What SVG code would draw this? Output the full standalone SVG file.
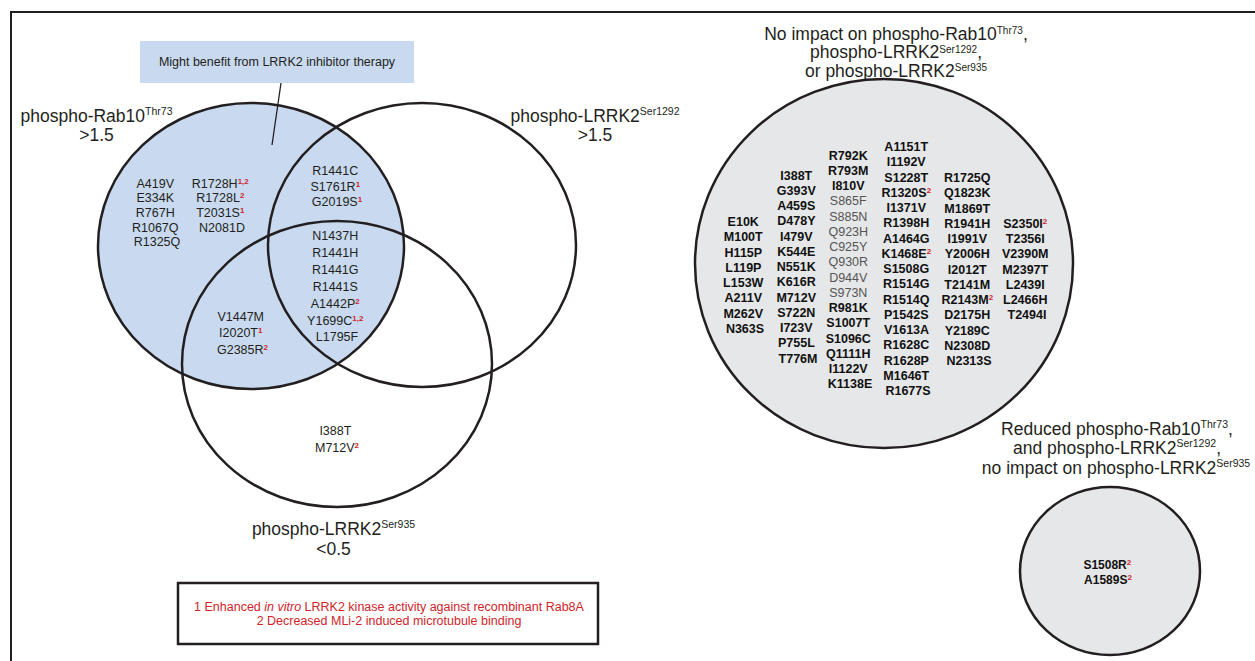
<svg xmlns="http://www.w3.org/2000/svg" width="1255" height="661" viewBox="0 0 1255 661">
<style>
text { font-family: "Liberation Sans", Arial, Helvetica, sans-serif; }
.frame { fill: none; stroke: #231f20; stroke-width: 2; }
.venn { fill: none; stroke: #231f20; stroke-width: 2.5; }
.blue { fill: #c9daf0; stroke: #231f20; stroke-width: 2.5; }
.grey { fill: #e6e7e8; stroke: #231f20; stroke-width: 2.5; }
.v { font-size: 12.5px; fill: #231f20; text-anchor: middle; }
.g { font-size: 12.5px; font-weight: bold; fill: #111111; text-anchor: middle; }
.gl { font-weight: normal; fill: #555555; }
.sup { fill: #d2232a; font-weight: bold; font-size: 8px; }
.title { font-size: 17.5px; fill: #231f20; text-anchor: middle; }
.ts { font-size: 10.5px; }
.ts2 { font-size: 10px; }
.leg { font-size: 12.5px; fill: #d2232a; text-anchor: middle; }
.lbl { font-size: 12.5px; fill: #231f20; text-anchor: middle; }
.conn { stroke: #231f20; stroke-width: 1.3; fill: none; }
</style>

<path class="frame" d="M11,661 V12 H1256"/>

<g id="venn-rab10">
  <ellipse class="blue" cx="251" cy="246" rx="153" ry="143"/>
  <text class="title" x="96.5" y="122">phospho-Rab10<tspan class="ts" dy="-7">Thr73</tspan></text>
  <text class="title" x="96.5" y="141">&gt;1.5</text>
</g>
<g id="venn-ser1292">
  <ellipse class="venn" cx="422" cy="245" rx="154" ry="142"/>
  <text class="title" x="595" y="122">phospho-LRRK2<tspan class="ts" dy="-7">Ser1292</tspan></text>
  <text class="title" x="595" y="141">&gt;1.5</text>
</g>
<g id="venn-ser935">
  <ellipse class="venn" cx="337" cy="364" rx="155" ry="143"/>
  <text class="title" x="333.5" y="535">phospho-LRRK2<tspan class="ts" dy="-7">Ser935</tspan></text>
  <text class="title" x="333.5" y="555">&lt;0.5</text>
</g>

<g id="venn-labels">
  <text class="v">
    <tspan x="157" y="187.8">A419V</tspan>
    <tspan x="157" y="202.4">E334K</tspan>
    <tspan x="157" y="217">R767H</tspan>
    <tspan x="157" y="231.6">R1067Q</tspan>
    <tspan x="157" y="246.2">R1325Q</tspan>
  </text>
  <text class="v">
    <tspan x="222" y="187.8">R1728H<tspan class="sup" dy="-4">1,2</tspan></tspan>
    <tspan x="222" y="202.4">R1728L<tspan class="sup" dy="-4">2</tspan></tspan>
    <tspan x="222" y="217">T2031S<tspan class="sup" dy="-4">1</tspan></tspan>
    <tspan x="222" y="231.6">N2081D</tspan>
  </text>
  <text class="v">
    <tspan x="337" y="175">R1441C</tspan>
    <tspan x="337" y="190.5">S1761R<tspan class="sup" dy="-4">1</tspan></tspan>
    <tspan x="337" y="206">G2019S<tspan class="sup" dy="-4">1</tspan></tspan>
  </text>
  <text class="v">
    <tspan x="337" y="240">N1437H</tspan>
    <tspan x="337" y="256.9">R1441H</tspan>
    <tspan x="337" y="273.8">R1441G</tspan>
    <tspan x="337" y="290.7">R1441S</tspan>
    <tspan x="337" y="307.6">A1442P<tspan class="sup" dy="-4">2</tspan></tspan>
    <tspan x="337" y="324.5">Y1699C<tspan class="sup" dy="-4">1,2</tspan></tspan>
    <tspan x="337" y="341.4">L1795F</tspan>
  </text>
  <text class="v">
    <tspan x="242.5" y="321">V1447M</tspan>
    <tspan x="242.5" y="337.4">I2020T<tspan class="sup" dy="-4">1</tspan></tspan>
    <tspan x="242.5" y="353.8">G2385R<tspan class="sup" dy="-4">2</tspan></tspan>
  </text>
  <text class="v">
    <tspan x="337" y="435">I388T</tspan>
    <tspan x="337" y="452">M712V<tspan class="sup" dy="-4">2</tspan></tspan>
  </text>
</g>

<g id="label-box">
  <rect x="140" y="41" width="274" height="42" fill="#c9daf0"/>
  <text class="lbl" x="277" y="66">Might benefit from LRRK2 inhibitor therapy</text>
</g>

<g id="connectors">
  <line class="conn" x1="281" y1="83" x2="272" y2="145"/>
</g>

<g id="legend">
  <rect x="178" y="583" width="420" height="61" fill="#ffffff" stroke="#231f20" stroke-width="2.5"/>
  <text class="leg" x="389" y="611">1 Enhanced <tspan font-style="italic">in vitro</tspan> LRRK2 kinase activity against recombinant Rab8A</text>
  <text class="leg" x="389" y="625">2 Decreased MLi-2 induced microtubule binding</text>
</g>

<g id="no-impact">
  <text class="title" x="896" y="39.5">No impact on phospho-Rab10<tspan class="ts2" dy="-5.5">Thr73</tspan><tspan dy="5.5">,</tspan></text>
  <text class="title" x="896" y="58">phospho-LRRK2<tspan class="ts2" dy="-5.5">Ser1292</tspan><tspan dy="5.5">,</tspan></text>
  <text class="title" x="896" y="76.5">or phospho-LRRK2<tspan class="ts2" dy="-5.5">Ser935</tspan></text>
  <ellipse class="grey" cx="884" cy="263.5" rx="189" ry="184.5"/>
  <text class="g">
    <tspan x="745" y="226">E10K</tspan>
    <tspan x="745" y="241.25">M100T</tspan>
    <tspan x="745" y="256.5">H115P</tspan>
    <tspan x="745" y="271.75">L119P</tspan>
    <tspan x="745" y="287">L153W</tspan>
    <tspan x="745" y="302.25">A211V</tspan>
    <tspan x="745" y="317.5">M262V</tspan>
    <tspan x="745" y="332.75">N363S</tspan>
  </text>
  <text class="g">
    <tspan x="798" y="179.5">I388T</tspan>
    <tspan x="798" y="194.75">G393V</tspan>
    <tspan x="798" y="210">A459S</tspan>
    <tspan x="798" y="225.25">D478Y</tspan>
    <tspan x="798" y="240.5">I479V</tspan>
    <tspan x="798" y="255.75">K544E</tspan>
    <tspan x="798" y="271">N551K</tspan>
    <tspan x="798" y="286.25">K616R</tspan>
    <tspan x="798" y="301.5">M712V</tspan>
    <tspan x="798" y="316.75">S722N</tspan>
    <tspan x="798" y="332">I723V</tspan>
    <tspan x="798" y="347.25">P755L</tspan>
    <tspan x="798" y="362.5">T776M</tspan>
  </text>
  <text class="g">
    <tspan x="850" y="159.5">R792K</tspan>
    <tspan x="850" y="174.75">R793M</tspan>
    <tspan x="850" y="190">I810V</tspan>
    <tspan class="gl" x="850" y="205.25">S865F</tspan>
    <tspan class="gl" x="850" y="220.5">S885N</tspan>
    <tspan class="gl" x="850" y="235.75">Q923H</tspan>
    <tspan class="gl" x="850" y="251">C925Y</tspan>
    <tspan class="gl" x="850" y="266.25">Q930R</tspan>
    <tspan class="gl" x="850" y="281.5">D944V</tspan>
    <tspan class="gl" x="850" y="296.75">S973N</tspan>
    <tspan x="850" y="312">R981K</tspan>
    <tspan x="850" y="327.25">S1007T</tspan>
    <tspan x="850" y="342.5">S1096C</tspan>
    <tspan x="850" y="357.75">Q1111H</tspan>
    <tspan x="850" y="373">I1122V</tspan>
    <tspan x="850" y="388.25">K1138E</tspan>
  </text>
  <text class="g">
    <tspan x="908" y="151.2">A1151T</tspan>
    <tspan x="908" y="166.45">I1192V</tspan>
    <tspan x="908" y="181.7">S1228T</tspan>
    <tspan x="908" y="196.95">R1320S<tspan class="sup" dy="-4">2</tspan></tspan>
    <tspan x="908" y="212.2">I1371V</tspan>
    <tspan x="908" y="227.45">R1398H</tspan>
    <tspan x="908" y="242.7">A1464G</tspan>
    <tspan x="908" y="257.95">K1468E<tspan class="sup" dy="-4">2</tspan></tspan>
    <tspan x="908" y="273.2">S1508G</tspan>
    <tspan x="908" y="288.45">R1514G</tspan>
    <tspan x="908" y="303.7">R1514Q</tspan>
    <tspan x="908" y="318.95">P1542S</tspan>
    <tspan x="908" y="334.2">V1613A</tspan>
    <tspan x="908" y="349.45">R1628C</tspan>
    <tspan x="908" y="364.7">R1628P</tspan>
    <tspan x="908" y="379.95">M1646T</tspan>
    <tspan x="908" y="395.2">R1677S</tspan>
  </text>
  <text class="g">
    <tspan x="969" y="182.2">R1725Q</tspan>
    <tspan x="969" y="197.45">Q1823K</tspan>
    <tspan x="969" y="212.7">M1869T</tspan>
    <tspan x="969" y="227.95">R1941H</tspan>
    <tspan x="969" y="243.2">I1991V</tspan>
    <tspan x="969" y="258.45">Y2006H</tspan>
    <tspan x="969" y="273.7">I2012T</tspan>
    <tspan x="969" y="288.95">T2141M</tspan>
    <tspan x="969" y="304.2">R2143M<tspan class="sup" dy="-4">2</tspan></tspan>
    <tspan x="969" y="319.45">D2175H</tspan>
    <tspan x="969" y="334.7">Y2189C</tspan>
    <tspan x="969" y="349.95">N2308D</tspan>
    <tspan x="969" y="365.2">N2313S</tspan>
  </text>
  <text class="g">
    <tspan x="1027" y="227.8">S2350I<tspan class="sup" dy="-4">2</tspan></tspan>
    <tspan x="1027" y="243.05">T2356I</tspan>
    <tspan x="1027" y="258.3">V2390M</tspan>
    <tspan x="1027" y="273.55">M2397T</tspan>
    <tspan x="1027" y="288.8">L2439I</tspan>
    <tspan x="1027" y="304.05">L2466H</tspan>
    <tspan x="1027" y="319.3">T2494I</tspan>
  </text>
</g>

<g id="reduced">
  <text class="title" x="1117" y="434.5">Reduced phospho-Rab10<tspan class="ts" dy="-7">Thr73</tspan><tspan dy="7">,</tspan></text>
  <text class="title" x="1117" y="454">and phospho-LRRK2<tspan class="ts" dy="-7">Ser1292</tspan><tspan dy="7">,</tspan></text>
  <text class="title" x="1116" y="473.5">no impact on phospho-LRRK2<tspan class="ts" dy="-7">Ser935</tspan></text>
  <ellipse class="grey" cx="1110" cy="571" rx="90" ry="84"/>
  <text class="g" style="font-size:12px">
    <tspan x="1109" y="569">S1508R<tspan class="sup" dy="-4">2</tspan></tspan>
    <tspan x="1108" y="584">A1589S<tspan class="sup" dy="-4">2</tspan></tspan>
  </text>
</g>
</svg>
